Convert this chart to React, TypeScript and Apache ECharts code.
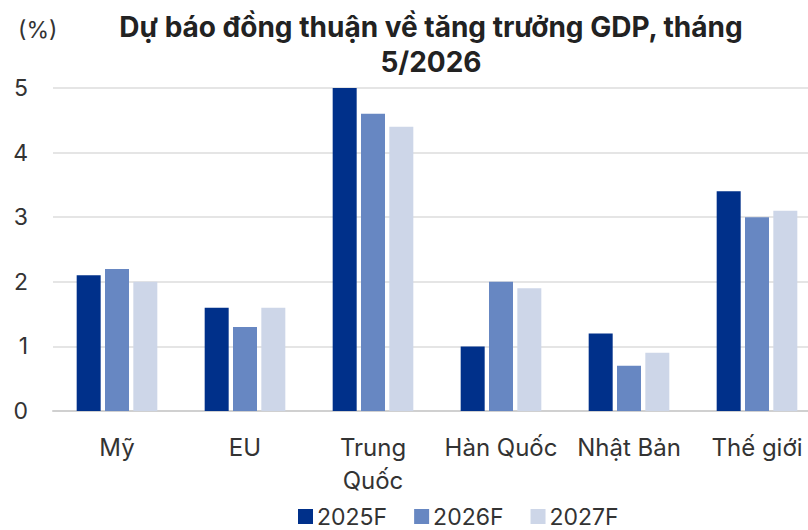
import React, { useEffect, useRef } from "react";
import * as echarts from "echarts";

const categories = ["Mỹ", "EU", "Trung Quốc", "Hàn Quốc", "Nhật Bản", "Thế giới"];
const seriesNames = ["2025F", "2026F", "2027F"];
const values2025 = [2.1, 1.6, 5.0, 1.0, 1.2, 3.4];
const values2026 = [2.2, 1.3, 4.6, 2.0, 0.7, 3.0];
const values2027 = [2.0, 1.6, 4.4, 1.9, 0.9, 3.1];
const colors = ["#00308A", "#6787C2", "#CDD6E8"];

const FONT = "Inter, 'Noto Sans', sans-serif";

export default function App() {
  const ref = useRef<HTMLDivElement>(null);
  useEffect(() => {
    if (!ref.current) return;
    const chart = echarts.init(ref.current, null, { renderer: "svg" });
    const data = [values2025, values2026, values2027];
    chart.setOption({
      animation: false,
      textStyle: { fontFamily: FONT },
      title: [
        {
          text: "Dự báo đồng thuận về tăng trưởng GDP, tháng\n5/2026",
          left: 426,
          top: 4,
          textAlign: "center",
          textStyle: { fontSize: 28, fontWeight: "bold", color: "#222", lineHeight: 35, fontFamily: FONT },
        },
        {
          text: "(%)",
          left: 13,
          top: 13,
          textStyle: { fontSize: 23, fontWeight: "normal", color: "#333", fontFamily: FONT },
        },
      ],
      legend: {
        bottom: -3,
        left: 293,
        itemWidth: 15,
        itemHeight: 15,
        itemGap: 27,
        icon: "rect",
        textStyle: { fontSize: 23, color: "#333", fontFamily: FONT, padding: [0, 0, 0, -1] },
        data: seriesNames,
      },
      grid: { left: 53, width: 768, top: 88, height: 323, outerBoundsMode: "none", containLabel: false },
      xAxis: {
        type: "category",
        data: categories,
        axisTick: { show: false },
        axisLine: { lineStyle: { color: "#D0D0D0", width: 2 } },
        axisLabel: {
          interval: 0,
          fontSize: 24,
          color: "#333",
          margin: 20,
          lineHeight: 33,
          fontFamily: FONT,
          formatter: (v: string) => (v === "Trung Quốc" ? "Trung\nQuốc" : v),
        },
      },
      yAxis: {
        type: "value",
        min: 0,
        max: 5,
        interval: 1,
        axisLine: { show: false },
        axisTick: { show: false },
        splitLine: { lineStyle: { color: "#DCDCDC", width: 1.5 } },
        axisLabel: { fontSize: 23, color: "#333", margin: 25, fontFamily: FONT },
      },
      series: seriesNames.map((name, i) => ({
        name,
        type: "bar",
        data: data[i],
        barWidth: 24,
        barGap: "18%",
        itemStyle: { color: colors[i] },
      })),
    });
    return () => chart.dispose();
  }, []);
  return <div ref={ref} style={{ width: 808, height: 530, position: "absolute", left: 0, top: 0 }} />;
}
